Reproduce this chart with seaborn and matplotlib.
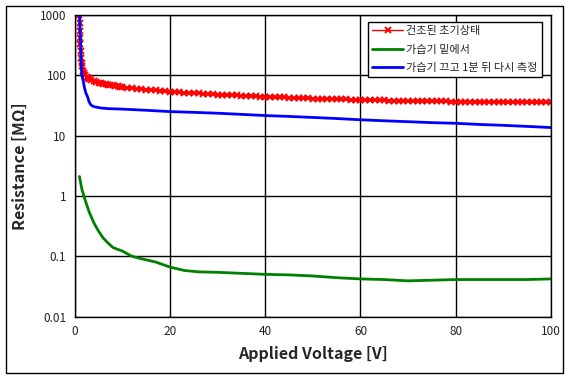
import numpy as np
import pandas as pd
import matplotlib
matplotlib.use("Agg")
import matplotlib.pyplot as plt
import seaborn as sns
from matplotlib.patches import Rectangle

# 건조된 초기상태 (red, x markers)
red_v = [1.0, 1.05, 1.1, 1.15, 1.2, 1.3, 1.4, 1.5, 1.6, 1.8, 2.0, 2.25, 2.5, 2.75, 3.0,
         3.5, 4.0, 4.5, 5.0, 5.5, 6.0, 6.5, 7.0, 7.5, 8.0, 8.5, 9.0, 9.5] + list(range(10, 101))
red_r = [1000, 750, 550, 420, 330, 250, 195, 160, 140, 120, 108, 100, 94, 90, 86,
         82, 79, 77, 75, 73.5, 72, 71, 70, 69, 68, 67, 66, 65,
         64, 62.5, 61.2, 60, 59, 58, 57, 56, 55, 54, 53,
         52.5, 52, 51.5, 51, 50.5, 50, 49.5, 49, 48.5, 48,
         47.6, 47.2, 46.8, 46.4, 46, 45.6, 45.2, 44.8, 44.4, 44,
         43.7, 43.4, 43.2, 42.9, 42.6, 42.3, 42, 41.8, 41.5, 41.2,
         41, 40.8, 40.5, 40.3, 40.1, 39.9, 39.7, 39.5, 39.3, 39.1,
         38.9, 38.8, 38.6, 38.5, 38.3, 38.2, 38, 37.9, 37.7, 37.6,
         37.5, 37.4, 37.3, 37.2, 37.1, 37, 36.9, 36.8, 36.7, 36.6,
         36.5, 36.45, 36.4, 36.3, 36.25, 36.2, 36.1, 36.05, 36, 35.95,
         35.9, 35.85, 35.8, 35.8, 35.75, 35.7, 35.7, 35.65, 35.6, 35.6]

# 가습기 밑에서 (green)
green_v = [1.0, 1.5, 2, 3, 4, 5, 6, 7, 8, 9, 10, 11, 12, 13, 15, 17, 20, 23, 26, 30,
           35, 40, 45, 50, 55, 60, 65, 70, 75, 80, 85, 90, 95, 100]
green_r = [2.1, 1.3, 0.95, 0.55, 0.36, 0.26, 0.2, 0.165, 0.14, 0.13, 0.122, 0.11, 0.1,
           0.095, 0.087, 0.08, 0.066, 0.058, 0.055, 0.054, 0.052, 0.05, 0.049, 0.047,
           0.044, 0.042, 0.041, 0.039, 0.04, 0.041, 0.041, 0.041, 0.041, 0.042]

# 가습기 끄고 1분 뒤 다시 측정 (blue)
blue_v = [1.0, 1.1, 1.2, 1.3, 1.4, 1.5, 1.8, 2.0, 2.3, 2.7, 3.0, 3.3, 3.7, 4.2, 4.7,
          5.5, 7, 10, 15, 20, 25, 30, 35, 40, 45, 50, 55, 60, 65, 70, 75, 80, 85, 90,
          95, 100]
blue_r = [1050, 700, 400, 230, 140, 100, 80, 65, 52, 44, 37, 33, 31, 30, 29.5,
          28.7, 28, 27.5, 26.3, 25, 24.3, 23.5, 22.5, 21.5, 20.8, 20, 19.2, 18.3,
          17.6, 17, 16.4, 16, 15.3, 14.8, 14.2, 13.6]

x_ticks = [0, 20, 40, 60, 80, 100]
y_ticks = [0.01, 0.1, 1, 10, 100, 1000]
y_tick_labels = ["0.01", "0.1", "1", "10", "100", "1000"]

sns.set_theme(style="white")
plt.rcParams["font.family"] = ["Noto Sans CJK KR", "DejaVu Sans"]

fig = plt.figure(figsize=(5.69, 3.80), dpi=100)
ax = fig.add_axes([74.7 / 569, 1 - 316.5 / 380, (551 - 74.7) / 569, (316.5 - 15) / 380])

red = pd.DataFrame({"V": red_v, "R": red_r})
green = pd.DataFrame({"V": green_v, "R": green_r})
blue = pd.DataFrame({"V": blue_v, "R": blue_r})

sns.lineplot(data=red, x="V", y="R", color="#ff0000", lw=1.5, marker="x", ms=4.5, mew=1.4,
             mec="#ff0000", sort=False, estimator=None, label="건조된 초기상태", ax=ax)
sns.lineplot(data=green, x="V", y="R", color="#008000", lw=2, sort=False, estimator=None,
             label="가습기 밑에서", ax=ax)
sns.lineplot(data=blue, x="V", y="R", color="#0000ff", lw=2, sort=False, estimator=None,
             label="가습기 끄고 1분 뒤 다시 측정", ax=ax)

ax.set_yscale("log")
ax.set_xlim(0, 100)
ax.set_ylim(0.01, 1000)
ax.set_xticks(x_ticks)
ax.set_xticklabels([str(t) for t in x_ticks])
ax.set_yticks(y_ticks)
ax.set_yticklabels(y_tick_labels)
ax.minorticks_off()
ax.tick_params(length=0, labelsize=8.5, colors="#222222", pad=6)
ax.grid(True, color="black", lw=1)
for s in ax.spines.values():
    s.set_color("black")
    s.set_linewidth(1)

ax.set_xlabel("Applied Voltage [V]", fontsize=11.5, fontweight="bold", labelpad=6)
ax.set_ylabel("Resistance [MΩ]", fontsize=11.5, fontweight="bold", labelpad=9)

leg = ax.legend(loc="upper right", bbox_to_anchor=(0.9805, 0.9758), borderaxespad=0,
                fancybox=False, edgecolor="black", framealpha=1, fontsize=8,
                handlelength=2.8, handletextpad=0.3, labelspacing=0.75, borderpad=0.35)
leg.get_frame().set_linewidth(1)
for h in leg.legend_handles:
    h.set_linewidth(2 if h.get_color() != "#ff0000" else 1)

fig.patches.append(Rectangle((5.5 / 569, 1 - 373 / 380), 557 / 569, 367.5 / 380,
                             transform=fig.transFigure, fill=False, edgecolor="black", lw=1))

fig.savefig("out.png", dpi=100)
